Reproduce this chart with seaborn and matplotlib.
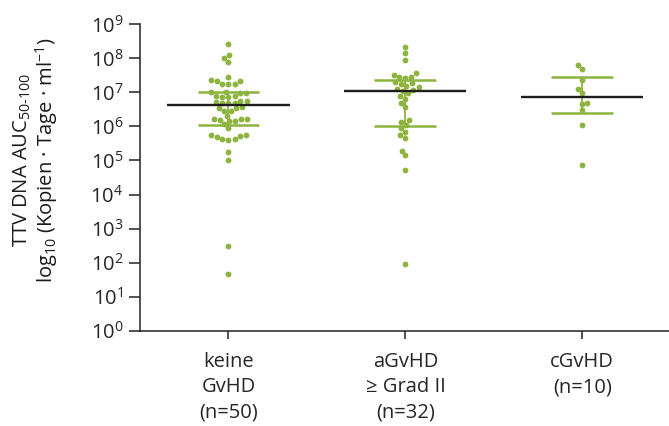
import numpy as np
import pandas as pd
import matplotlib
matplotlib.use("Agg")
import matplotlib.pyplot as plt
import seaborn as sns

# Groups and their labels
groups = ["keine", "aGvHD", "cGvHD"]
group_labels = ["keine\nGvHD\n(n=50)", "aGvHD\n≥ Grad II\n(n=32)", "cGvHD\n(n=10)"]

# log10 of TTV DNA AUC per patient
log_keine = [8.42, 8.10, 8.00, 7.89,
             7.44, 7.36, 7.34, 7.33, 7.26, 7.24, 7.24,
             7.01, 6.99, 7.02, 6.97,
             6.89, 6.88, 6.87, 6.86,
             6.76, 6.75, 6.72, 6.70, 6.69, 6.68,
             6.55, 6.56, 6.53,
             6.46, 6.44,
             6.31,
             6.23, 6.22, 6.15, 6.16, 6.19, 6.21,
             6.06, 5.95,
             5.73, 5.75, 5.74, 5.70,
             5.62, 5.61, 5.63,
             5.26, 5.01,
             2.49, 1.67]
log_agvhd = [8.33, 8.15, 7.96,
             7.56, 7.50, 7.46, 7.44, 7.41,
             7.31, 7.27, 7.24, 7.19,
             7.15, 7.10, 7.05, 7.08,
             6.97, 6.89, 6.82,
             6.69, 6.58,
             6.19, 6.13, 6.04,
             5.95, 5.84, 5.75, 5.65,
             5.29, 5.15, 4.73,
             1.97]
log_cgvhd = [7.81, 7.68, 7.36, 7.09, 6.97, 6.69, 6.65, 6.48, 6.05, 4.86]

# Central line and whisker ends (log10)
log_center = [6.62, 7.05, 6.86]
log_upper = [7.02, 7.36, 7.46]
log_lower = [6.04, 6.01, 6.40]

# Y-axis title, one entry per line
ylabel_lines = ["TTV DNA AUC$_{\\text{50-100}}$",
                "log$_{\\mathrm{10}}$ (Kopien · Tage · ml$^{\\mathrm{-1}}$)"]

green = "#8cb43f"
dark = "#1e1e1e"

df = pd.DataFrame({
    "group": (["keine"] * len(log_keine) + ["aGvHD"] * len(log_agvhd)
              + ["cGvHD"] * len(log_cgvhd)),
    "value": 10.0 ** np.array(log_keine + log_agvhd + log_cgvhd),
})

sns.set_style("ticks")
font = "Open Sans"
plt.rcParams["font.family"] = [font, "DejaVu Sans"]
plt.rcParams["mathtext.fontset"] = "custom"
plt.rcParams["mathtext.rm"] = font
plt.rcParams["mathtext.it"] = font + ":italic"
plt.rcParams["mathtext.bf"] = font + ":bold"

W, H = 669, 426
fig = plt.figure(figsize=(W / 100, H / 100), dpi=100)
ax = fig.add_axes([140 / W, 1 - 330.7 / H, (W - 140) / W, (330.7 - 24.3) / H])

ax.set_yscale("log")

sns.swarmplot(data=df, x="group", y="value", order=groups, color=green,
              size=4.2, linewidth=0, ax=ax, zorder=3, log_scale=True)

pos = np.arange(len(groups))
center = 10.0 ** np.array(log_center)
upper = 10.0 ** np.array(log_upper)
lower = 10.0 ** np.array(log_lower)

ax.vlines(pos, lower, upper, color=green, lw=1.3, zorder=2)
ax.hlines(upper, pos - 0.175, pos + 0.175, color=green, lw=1.8, zorder=2)
ax.hlines(lower, pos - 0.175, pos + 0.175, color=green, lw=1.8, zorder=2)
ax.hlines(center, pos - 0.345, pos + 0.345, color=dark, lw=1.7, zorder=4)

ax.set_ylim(1, 1e9)
ax.set_xlim(-0.5, 2.49)
ax.set_yticks([10.0 ** k for k in range(10)])
ax.set_yticklabels([f"$10^{{{k}}}$" for k in range(10)])
ax.yaxis.set_minor_locator(matplotlib.ticker.NullLocator())
ax.set_xticks(pos)
ax.set_xticklabels(group_labels, linespacing=1.38)

sns.despine(ax=ax)
for side in ("left", "bottom"):
    ax.spines[side].set_linewidth(1.1)
    ax.spines[side].set_color("#222222")
ax.tick_params(axis="y", length=8, width=1.1, color="#222222", labelsize=14.5, pad=4)
ax.tick_params(axis="x", length=6, width=1.1, color="#222222", labelsize=14.5, pad=9)

ax.set_xlabel("")
ax.set_ylabel("")
for xpix, line in zip([22, 47], ylabel_lines):
    fig.text(xpix / W, 1 - 160 / H, line, rotation=90, ha="center",
             va="center", fontsize=14.5, color="#1a1a1a")

fig.savefig("out.png", dpi=100)
